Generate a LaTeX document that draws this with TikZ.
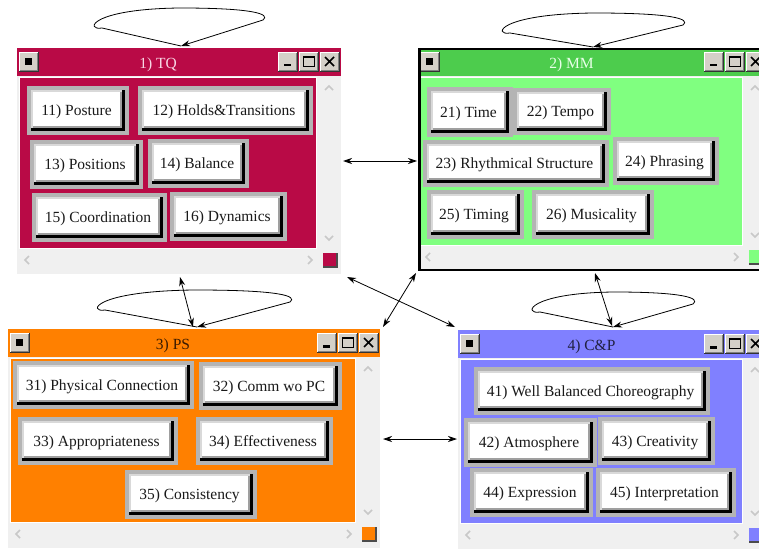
\documentclass[tikz,border=0pt]{standalone}
\usepackage{fontspec}
\setmainfont{Liberation Serif}
\usetikzlibrary{arrows.meta}
\definecolor{tqc}{RGB}{185,10,70}
\definecolor{mmt}{RGB}{77,204,77}
\definecolor{mmb}{RGB}{128,255,128}
\definecolor{psc}{RGB}{255,128,0}
\definecolor{cpc}{RGB}{128,128,255}
\definecolor{winbg}{RGB}{240,240,240}
\definecolor{face}{RGB}{212,208,200}
\definecolor{frm}{RGB}{180,180,180}
\definecolor{chev}{RGB}{200,200,200}
\definecolor{tqt}{RGB}{248,214,228}
\definecolor{mmtt}{RGB}{232,255,232}
\definecolor{pst}{RGB}{58,26,0}
\definecolor{cpt}{RGB}{32,32,64}
\newcommand\btnfont{\fontsize{15.5}{18}\selectfont}
\tikzset{
  arr/.style={{Stealth[length=9pt,width=6pt]}-{Stealth[length=9pt,width=6pt]}, line width=0.8pt},
  lp/.style={-{Stealth[length=9pt,width=6pt]}, line width=0.8pt},
  chevron/.style={draw=chev, line width=1.6pt},
  lbl/.style={font=\btnfont, inner sep=0pt, text=black!90}
}
% title-bar button, top-left at (#1,#2), 20x20
\newcommand\wbtn[2]{%
  \fill[black!80] ({#1},{#2}) rectangle ++(20,20);
  \fill[white] ({#1},{#2}) rectangle ++(19,19);
  \fill[gray] ({#1+1},{#2+1}) rectangle ({#1+19},{#2+19});
  \fill[face] ({#1+1},{#2+1}) rectangle ({#1+18},{#2+18});
}
% window: x1 y1 x2 y2 titlecol bodycol title titletextcol name
\newcommand\win[9]{%
  \fill[winbg] (#1,#2) rectangle (#3,#4);
  \fill[#5] (#1,#2) rectangle (#3,{#2+28});
  \fill[white] ({#1+2},{#2+29}) rectangle ({#3-24},{#4-25});
  \fill[#6] ({#1+3},{#2+30}) rectangle ({#3-25},{#4-26});
  \wbtn{#1+2}{#2+4}
  \fill[black] ({#1+8},{#2+10}) rectangle ({#1+15},{#2+17});
  \wbtn{#3-63}{#2+4}
  \fill[black] ({#3-57},{#2+16}) rectangle ({#3-50},{#2+18.5});
  \wbtn{#3-42}{#2+4}
  \draw[black, line width=1.3pt] ({#3-37.5},{#2+8.5}) rectangle ({#3-26.5},{#2+18.5});
  \draw[black, line width=1.3pt] ({#3-38},{#2+9.5}) -- ({#3-26},{#2+9.5});
  \wbtn{#3-21}{#2+4}
  \draw[black, line width=1.6pt] ({#3-16},{#2+9}) -- ({#3-7},{#2+18}) ({#3-16},{#2+18}) -- ({#3-7},{#2+9});
  \node[font=\btnfont, inner sep=0pt, text=#8] (#9) at ({(#1+21+#3-63)/2},{#2+16.5}) {#7};
  \draw[chevron] ({#3-16},{#2+42}) -- ({#3-12},{#2+38}) -- ({#3-8},{#2+42});
  \draw[chevron] ({#3-16},{#4-38}) -- ({#3-12},{#4-34}) -- ({#3-8},{#4-38});
  \draw[chevron] ({#1+12},{#4-18}) -- ({#1+8},{#4-14}) -- ({#1+12},{#4-10});
  \draw[chevron] ({#3-33},{#4-18}) -- ({#3-29},{#4-14}) -- ({#3-33},{#4-10});
  \fill[black!70] ({#3-18},{#4-21}) rectangle ({#3-3},{#4-6});
  \fill[#6] ({#3-18},{#4-21}) rectangle ({#3-5},{#4-8});
}
% button: name x1 y1 x2 y2 text
\newcommand\btn[6]{%
  \fill[frm] (#2,#3) rectangle (#4,#5);
  \fill[black] ({#2+4},{#3+4}) rectangle ({#4-4},{#5-4});
  \fill[white!85!black] ({#2+4},{#3+4}) rectangle ({#4-7},{#5-7});
  \fill[gray!75] ({#2+6},{#3+6}) rectangle ({#4-7},{#5-7});
  \fill[white] ({#2+6},{#3+6}) rectangle ({#4-9},{#5-9});
  \node[lbl] (#1) at ({(#2+#4)/2-1.5},{(#3+#5)/2+1.5}) {#6};
}
% self loop: tipx tipy left right top
\newcommand\selfloop[5]{%
  \draw[lp] (#1,#2) -- ({#3+5},{#5+20}) .. controls ({#3-12},{#5+23}) and ({#3-8},{#5+1}) .. ({(#3+#4)/2},{#5}) .. controls ({#4-10},{#5}) and ({#4+8},{#5+6}) .. ({#4},{#5+12}) -- (#1,#2);
}
\begin{document}
\begin{tikzpicture}[x={(1pt,0pt)}, y={(0pt,-1pt)}]
\useasboundingbox (0,0) rectangle (759,548);
\fill[white] (0,0) rectangle (759,548);
% windows
\win{17}{48}{341}{274}{tqc}{tqc}{1) TQ}{tqt}{tq}
\win{418}{48}{767}{271}{mmt}{mmb}{2) MM}{mmtt}{mm}
\draw[black, line width=2.5pt] (419.25,49.25) rectangle (770,269.75);
\win{8}{329}{380}{548}{psc}{psc}{3) PS}{pst}{ps}
\win{458}{330}{767}{549}{cpc}{cpc}{4) C\&P}{cpt}{cp}
% TQ buttons
\btn{b11}{27}{86}{129}{135}{11) Posture}
\btn{b12}{138}{86}{313}{135}{12) Holds\&Transitions}
\btn{b13}{30}{140}{143}{189}{13) Positions}
\btn{b14}{148}{139}{249}{188}{14) Balance}
\btn{b15}{32}{193}{167}{242}{15) Coordination}
\btn{b16}{170}{192}{287}{241}{16) Dynamics}
% MM buttons
\btn{b21}{427}{87}{513}{137}{21) Time}
\btn{b22}{513}{88}{611}{135}{22) Tempo}
\btn{b23}{423}{140}{609}{187}{23) Rhythmical Structure}
\btn{b24}{613}{137}{719}{185}{24) Phrasing}
\btn{b25}{427}{190}{524}{239}{25) Timing}
\btn{b26}{532}{190}{654}{239}{26) Musicality}
% PS buttons
\btn{b31}{13}{361}{194}{409}{31) Physical Connection}
\btn{b32}{199}{362}{342}{410}{32) Comm wo PC}
\btn{b33}{18}{417}{178}{465}{33) Appropriateness}
\btn{b34}{196}{417}{333}{465}{34) Effectiveness}
\btn{b35}{125}{470}{257}{519}{35) Consistency}
% C&P buttons
\btn{b41}{474}{367}{710}{415}{41) Well Balanced Choreography}
\btn{b42}{464}{418}{597}{467}{42) Atmosphere}
\btn{b43}{598}{417}{715}{465}{43) Creativity}
\btn{b44}{470}{468}{593}{517}{44) Expression}
\btn{b45}{596}{468}{736}{517}{45) Interpretation}
% connector end points
\coordinate (tqR) at (343,161);
\coordinate (mmL) at (417,161);
\coordinate (tqBR) at (347,277);
\coordinate (cpTL) at (455,327);
\coordinate (mmBL) at (416,273);
\coordinate (psTR) at (383,327);
\coordinate (tqB) at (180,277);
\coordinate (psT) at (193,327);
\coordinate (mmB) at (595,273);
\coordinate (cpT) at (612,326);
\coordinate (psR) at (383,439);
\coordinate (cpL) at (457,439);
\draw[arr] (tqR) -- (mmL);
\draw[arr] (tqBR) -- (cpTL);
\draw[arr] (mmBL) -- (psTR);
\draw[arr] (tqB) -- (psT);
\draw[arr] (mmB) -- (cpT);
\draw[arr] (psR) -- (cpL);
% self loops
\selfloop{181}{46}{97}{263}{8}
\selfloop{593}{47}{505}{683}{13}
\selfloop{197}{327}{100}{290}{290}
\selfloop{613}{327}{535}{693}{292}
\end{tikzpicture}
\end{document}
